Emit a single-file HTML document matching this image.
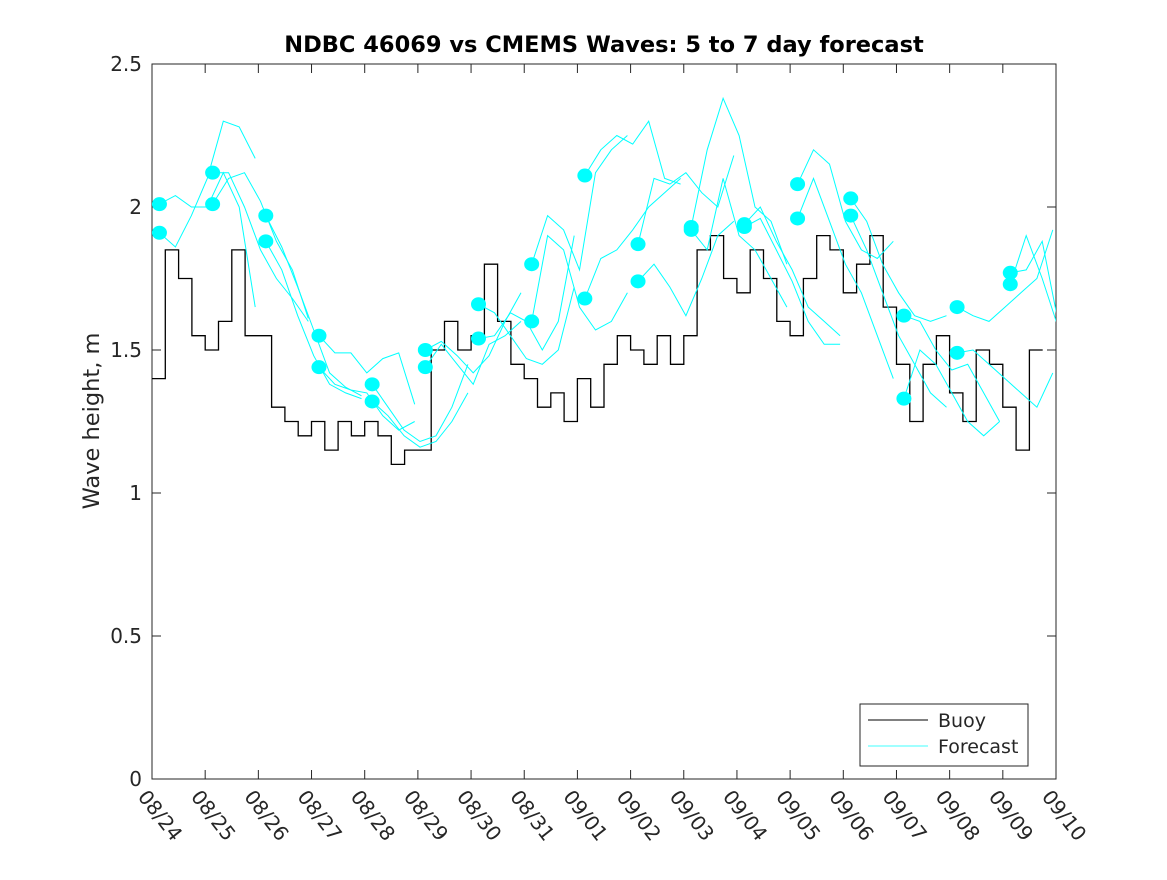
<!DOCTYPE html>
<html><head><meta charset="utf-8"><style>
body{margin:0;background:#fff;}
svg text{font-family:"DejaVu Sans","Liberation Sans",sans-serif;fill:#262626;}
</style></head><body>
<svg id="chart" width="1167" height="875" viewBox="0 0 1167 875" xmlns="http://www.w3.org/2000/svg">
<rect width="1167" height="875" fill="#fff"/>
<defs><clipPath id="pc"><rect x="152" y="64" width="904" height="715"/></clipPath></defs>
<text x="604" y="52" text-anchor="middle" font-size="22.5" font-weight="bold" style="fill:#000">NDBC 46069 vs CMEMS Waves: 5 to 7 day forecast</text>
<text transform="translate(99,421) rotate(-90)" text-anchor="middle" font-size="22.5">Wave height, m</text>
<rect x="152" y="64" width="904" height="715" fill="none" stroke="#262626" stroke-width="1"/>
<g id="axes"></g>
<g id="series" clip-path="url(#pc)"></g>
<g id="dots"></g>
<g>
<rect x="860" y="704" width="168" height="62" fill="#fff" stroke="#262626"/>
<line x1="868" y1="720" x2="928" y2="720" stroke="#000"/>
<text x="938" y="727" font-size="19">Buoy</text>
<line x1="868" y1="746" x2="928" y2="746" stroke="#00ffff" stroke-width="0.7"/>
<text x="938" y="753" font-size="19">Forecast</text>
</g>
</svg>
<script>
const xTickLabels=["08/24","08/25","08/26","08/27","08/28","08/29","08/30","08/31","09/01","09/02","09/03","09/04","09/05","09/06","09/07","09/08","09/09","09/10"];
const yTicks=[0,0.5,1,1.5,2,2.5];
const buoy=[1.4,1.85,1.75,1.55, 1.5,1.6,1.85,1.55, 1.55,1.3,1.25,1.2, 1.25,1.15,1.25,1.2, 1.25,1.2,1.1,1.15, 1.15,1.5,1.6,1.5, 1.55,1.8,1.6,1.45, 1.4,1.3,1.35,1.25, 1.4,1.3,1.45,1.55, 1.5,1.45,1.55,1.45, 1.55,1.85,1.9,1.75, 1.7,1.85,1.75,1.6, 1.55,1.75,1.9,1.85, 1.7,1.8,1.9,1.65, 1.45,1.25,1.45,1.55, 1.35,1.25,1.5,1.45, 1.3,1.15,1.5];
const fcA=[
[2.01,2.04,2.0,2.0,2.12,2.0,1.65],
[2.12,2.12,2.0,1.85,1.75,1.68,1.60],
[1.97,1.86,1.72,1.57,1.42,1.37,1.34],
[1.55,1.49,1.49,1.42,1.47,1.49,1.31],
[1.38,1.3,1.22,1.18,1.2,1.3,1.45],
[1.50,1.53,1.48,1.42,1.48,1.60,1.7],
[1.66,1.63,1.55,1.47,1.45,1.5,1.72],
[1.80,1.97,1.92,1.78,2.12,2.2,2.25],
[2.11,2.2,2.25,2.22,2.3,2.1,2.08],
[1.87,2.1,2.08,2.12,2.05,2.0,2.18],
[1.93,2.2,2.38,2.25,2.0,1.95,1.8],
[1.94,2.0,1.88,1.78,1.65,1.6,1.55],
[2.08,2.2,2.15,1.95,1.85,1.82,1.88],
[2.03,1.95,1.8,1.7,1.62,1.6,1.62],
[1.62,1.6,1.5,1.43,1.45,1.35,1.25],
[1.65,1.62,1.6,1.65,1.7,1.75,1.92],
[1.77,1.78,1.88,1.6,1.45,1.38,1.38]];
const fcB=[
[1.91,1.86,1.97,2.1,2.30,2.28,2.17],
[2.01,2.1,2.12,2.02,1.88,1.78,1.61],
[1.88,1.78,1.62,1.48,1.38,1.35,1.33],
[1.44,1.38,1.36,1.35,1.27,1.22,1.25],
[1.32,1.27,1.2,1.16,1.18,1.25,1.35],
[1.44,1.52,1.45,1.38,1.52,1.55,1.6],
[1.54,1.55,1.63,1.6,1.5,1.6,1.9],
[1.60,1.9,1.85,1.65,1.57,1.6,1.7],
[1.68,1.82,1.85,1.92,2.0,2.05,2.1],
[1.74,1.8,1.72,1.62,1.75,1.9,1.95],
[1.92,1.85,2.1,1.9,1.85,1.75,1.65],
[1.93,1.96,1.85,1.74,1.6,1.52,1.52],
[1.96,2.1,1.95,1.8,1.7,1.55,1.4],
[1.97,1.85,1.7,1.55,1.45,1.35,1.3],
[1.33,1.5,1.45,1.35,1.25,1.2,1.25],
[1.49,1.5,1.45,1.4,1.35,1.3,1.42],
[1.73,1.9,1.75,1.58,1.42,1.35,1.27]];
const NS="http://www.w3.org/2000/svg";
const X0=152,X1=1056,Y0=779,Y1=64;
const xs=d=>X0+(X1-X0)*d/17;
const ys=v=>Y0-(Y0-Y1)*v/2.5;
function mk(t,a,p){const e=document.createElementNS(NS,t);for(const k in a)e.setAttribute(k,a[k]);p.appendChild(e);return e;}
const ax=document.getElementById('axes');
xTickLabels.forEach((l,i)=>{const x=xs(i);
const t1=mk('line',{x1:x,y1:Y0,x2:x,y2:Y0-9,stroke:'#262626'},ax);


const t2=mk('line',{x1:x,y1:Y1,x2:x,y2:Y1+9,stroke:'#262626'},ax);


const tx=mk('text',{transform:`translate(${x-15},${797}) rotate(52)`,'font-size':20},ax);tx.textContent=l;

});
yTicks.forEach(v=>{const y=ys(v);
const t1=mk('line',{x1:X0,y1:y,x2:X0+9,y2:y,stroke:'#262626'},ax);


const t2=mk('line',{x1:X1,y1:y,x2:X1-9,y2:y,stroke:'#262626'},ax);


const tx=mk('text',{x:X0-10,y:y+7,'text-anchor':'end','font-size':20},ax);tx.textContent=String(v);

});
const sg=document.getElementById('series');
let d='';buoy.forEach((v,i)=>{const x=xs(i*0.25),y=ys(v);d+=(i?`H${x.toFixed(1)}V${y.toFixed(1)}`:`M${x.toFixed(1)},${y.toFixed(1)}`);});
d+=`H${xs(buoy.length*0.25).toFixed(1)}`;
const bl=mk('path',{d:d,fill:'none',stroke:'#000','stroke-width':1.3},sg);


const dg=document.getElementById('dots');
[fcA,fcB].forEach((set,si)=>set.forEach((vals,k)=>{
const pts=vals.map((v,j)=>`${xs(k+0.14+j*0.3).toFixed(1)},${ys(v).toFixed(1)}`).join(' ');
const pl=mk('polyline',{points:pts,fill:'none',stroke:'#00ffff','stroke-width':1},sg);


const c=mk('ellipse',{cx:xs(k+0.14),cy:ys(vals[0]),rx:7.5,ry:7,fill:'#00ffff'},dg);


}));
</script>
</body></html>
